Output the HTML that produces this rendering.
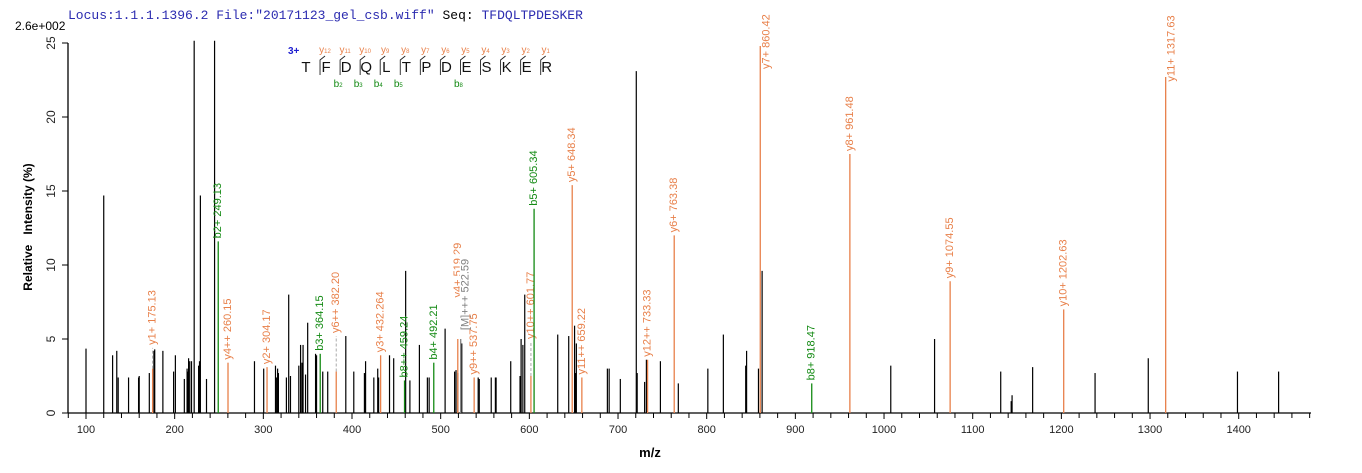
<!DOCTYPE html>
<html><head><meta charset="utf-8"><style>
html,body{margin:0;padding:0;background:#fff;}
svg{display:block;font-family:"Liberation Sans",Arial,sans-serif;}
</style></head><body>
<svg id="chart" width="1362" height="473" viewBox="0 0 1362 473" xmlns="http://www.w3.org/2000/svg">
<text x="68" y="19" font-family="Liberation Mono, monospace" font-size="13" fill="#2b2bb0">Locus:1.1.1.1396.2 File:"20171123_gel_csb.wiff"   <tspan fill="#000">Seq:</tspan> TFDQLTPDESKER</text>
<text x="15" y="30" font-size="12" fill="#000">2.6e+002</text>
<g id="axes"></g>
<g id="peaks"></g>
<g id="labels"></g>
<g id="pep"></g>
<text x="32" y="227" font-size="12" font-weight="bold" text-anchor="middle" transform="rotate(-90 32 227)" xml:space="preserve">Relative   Intensity (%)</text>
<text x="650" y="457" font-size="13" font-weight="bold" text-anchor="middle">m/z</text>
</svg>
<script>
const blackMz=[100,120,130,134.7,136.3,148,159.3,160,171.4,176.6,177.5,186.7,198.8,200.8,210.9,214,215,215.7,217,219,222,227,228,229,235.9,245,290,300.4,313.7,315,316.1,317,326,328.6,330.6,340,342,343.5,344.8,347.6,350,358.9,360,367,372.6,393,402,414,415.3,424.6,429,430,442.3,447,460.5,465.3,476,485,487,505,515.7,517.3,519.4,523.8,542.3,543.5,557,561.7,562.5,579,589.5,590.7,592.7,594.8,632,644.4,651,652,653,688,690,702.6,720.6,721.6,730,732,747.8,768,801.3,818.8,844,845,858.4,862.5,1007.6,1057,1131.6,1143.4,1144.4,1167.6,1238,1298,1398.6,1445];
const blackInt=[4.35,14.7,3.9,4.2,2.4,2.4,2.4,2.5,2.7,4.2,4.3,4.2,2.8,3.9,2.3,3.0,2.8,3.7,3.5,3.5,26,3.2,3.5,14.7,2.3,26,3.5,3.0,3.2,2.4,3.0,2.7,2.4,8.0,2.5,3.2,4.6,3.4,4.6,2.6,6.1,4.0,3.9,2.8,2.8,5.2,2.8,2.7,3.5,2.4,3.0,2.4,3.9,3.7,9.6,2.2,4.6,2.4,2.4,5.7,2.8,2.9,2.7,4.7,2.4,2.3,2.4,2.4,2.4,3.5,2.5,5.0,4.6,8.0,5.3,5.2,5.9,2.7,4.7,3.0,3.0,2.3,23.1,2.7,2.1,3.6,3.5,2.0,3.0,5.3,3.2,4.2,3.0,9.6,3.2,5.0,2.8,0.8,1.2,3.1,2.7,3.7,2.8,2.8];
const ionNames=["y1+","b2+","y4++","y2+","b3+","y6++","y3+","b8++","b4+","y4+","[M]+++","y9++","y10++","b5+","y5+","y11++","y12++","y6+","y7+","b8+","y8+","y9+","y10+","y11+"];
const ionMz=[175.13,249.13,260.15,304.17,364.15,382.20,432.264,459.24,492.21,519.29,522.59,537.75,601.77,605.34,648.34,659.22,733.33,763.38,860.42,918.47,961.48,1074.55,1202.63,1317.63];
const ionInt=[3.0,11.6,3.4,3.1,4.0,2.8,3.9,2.2,3.4,5.0,5.0,2.4,2.5,13.8,15.4,2.4,3.6,12.0,24.8,2.0,17.5,8.9,7.0,22.7];
const ionLabelAt=[4.4,11.6,3.4,3.1,4.0,5.2,3.9,2.2,3.4,7.6,5.4,2.4,4.8,13.8,15.4,2.4,3.6,12.0,24.8,2.0,17.5,8.9,7.0,22.7];
const ionType=["y","b","y","y","b","y","y","b","b","y","m","y","y","b","y","y","y","y","y","b","y","y","y","y"];
const xTicks=[100,200,300,400,500,600,700,800,900,1000,1100,1200,1300,1400];
const yTicks=[0,5,10,15,20,25];
const seq="TFDQLTPDESKER".split("");
const yIonLabels=["12","11","10","9","8","7","6","5","4","3","2","1"];
const bIonPos=[2,3,4,5,8];

const NS="http://www.w3.org/2000/svg";
const X0=86,PX=0.8867,Y0=413,PY=14.8;
const xS=m=>X0+(m-100)*PX;
const yS=v=>Y0-Math.min(v,25.15)*PY;
const COL={y:"#e8804a",b:"#138a13",m:"#808080"};
function mk(tag,attrs,parent,txt){const e=document.createElementNS(NS,tag);for(const k in attrs)e.setAttribute(k,attrs[k]);if(txt!==undefined)e.textContent=txt;parent.appendChild(e);return e;}
const axes=document.getElementById("axes");
let e=mk("line",{x1:68,y1:Y0,x2:1311,y2:Y0,stroke:"#000","stroke-width":1.3},axes);


e=mk("line",{x1:68,y1:yS(25),x2:68,y2:Y0,stroke:"#000","stroke-width":1.3},axes);


for(let m=80;m<=1480;m+=20){const x=xS(m);if(x<68||x>1311)continue;const maj=(m%100===0);
 e=mk("line",{x1:x,y1:Y0,x2:x,y2:Y0+(maj?6:5),stroke:"#000","stroke-width":1},axes);
 
 }
xTicks.forEach(t=>{e=mk("text",{x:xS(t),y:433,"font-size":11,"text-anchor":"middle",fill:"#222"},axes,String(t));
 
 });
yTicks.forEach(t=>{const y=yS(t);
 e=mk("line",{x1:62,y1:y,x2:68,y2:y,stroke:"#000","stroke-width":1},axes);
 
 
 e=mk("text",{x:55,y:y,"font-size":12,"text-anchor":"middle",transform:`rotate(-90 55 ${y})`,fill:"#222"},axes,String(t));
 
 });
const pk=document.getElementById("peaks");
blackMz.forEach((m,i)=>{const x=xS(m);
 e=mk("line",{x1:x,y1:Y0,x2:x,y2:yS(blackInt[i]),stroke:"#000","stroke-width":1.2},pk);
 
 });
const lb=document.getElementById("labels");
ionMz.forEach((m,i)=>{const x=xS(m),c=COL[ionType[i]];
 e=mk("line",{x1:x,y1:Y0,x2:x,y2:yS(ionInt[i]),stroke:c,"stroke-width":1.3},lb);
 
 
 if(ionLabelAt[i]>ionInt[i]+0.5 && ionType[i]!=="y" || (ionLabelAt[i]>ionInt[i]+0.5 && i!==9)){
  e=mk("line",{x1:x,y1:yS(ionInt[i]),x2:x,y2:yS(ionLabelAt[i]),stroke:"#aaa","stroke-width":1,"stroke-dasharray":"3,2"},lb);
  
  }
 const label=ionNames[i]+" "+(ionMz[i]===432.264?"432.264":ionMz[i].toFixed(2));
 const len=label.length*6.3;
 let by=yS(ionLabelAt[i])-3,lx=x;
 if(ionType[i]==="m")lx=x+5;
 if(by-len<4){by=len+6;lx=x+6;}
 if(ionType[i]==="m"){
  e=mk("rect",{x:lx-6,y:by-len,width:12,height:len,fill:"#fff"},lb);
  
  }
 e=mk("text",{x:lx,y:by,"font-size":11,fill:c,"dominant-baseline":"central",transform:`rotate(-90 ${lx} ${by})`},lb,label);
 
 });
const pep=document.getElementById("pep");
e=mk("text",{x:288,y:54,"font-size":10,"font-weight":"bold",fill:"#2020d0"},pep,"3+");


const LX=306,LS=20.06;
seq.forEach((a,i)=>{e=mk("text",{x:LX+i*LS,y:72,"font-size":15,"text-anchor":"middle",fill:"#111"},pep,a);
 
 });
yIonLabels.forEach((n,i)=>{const bx=LX+(i+0.5)*LS+4;
 e=mk("path",{d:`M${bx} 75 L${bx} 60 L${bx+5} 56`,fill:"none",stroke:"#222","stroke-width":0.9},pep);
 
 
 e=mk("text",{x:bx+5,y:53,"font-size":10,fill:"#e8804a","text-anchor":"middle"},pep,"y");
 
 
 mk("tspan",{"font-size":6},e,n);});
bIonPos.forEach(p=>{const bx=LX+(p-0.5)*LS+4;
 e=mk("text",{x:bx-2,y:87,"font-size":10,fill:"#138a13","text-anchor":"middle"},pep,"b");
 
 
 mk("tspan",{"font-size":6},e,String(p));});
</script>
</body></html>
